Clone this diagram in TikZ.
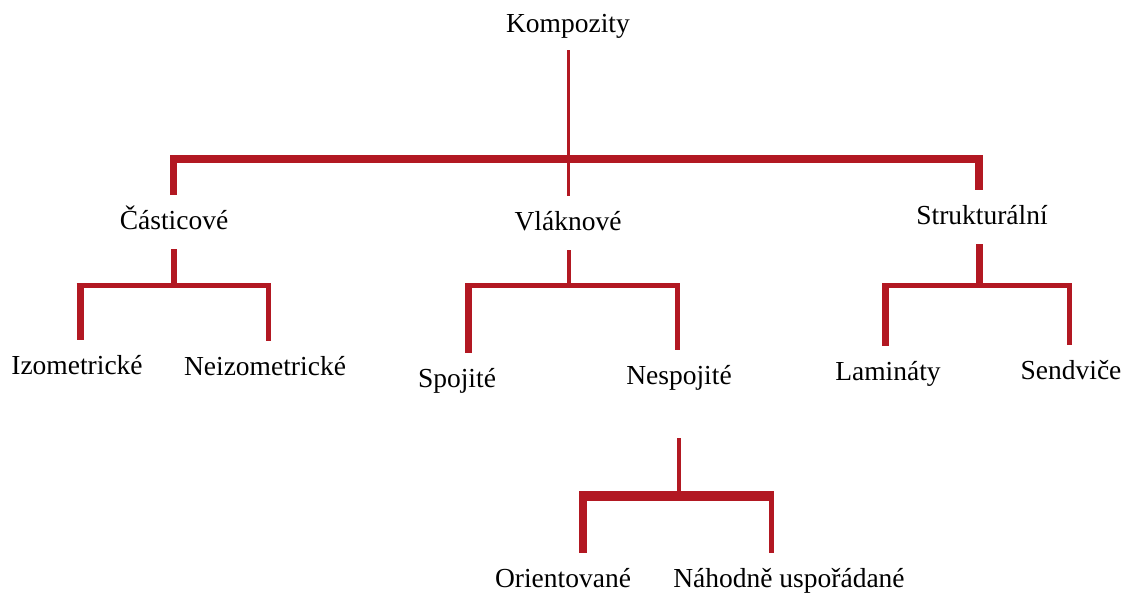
\documentclass[tikz,border=0pt]{standalone}
\usepackage{fontspec}
\setmainfont{Liberation Serif}
\usepackage{tikz}
\usetikzlibrary{positioning,calc}
\definecolor{barred}{RGB}{178,24,34}
\tikzset{
  lbl/.style={font=\fontsize{27.5}{30}\selectfont, inner xsep=0pt, inner ysep=14pt, text height=20pt, text depth=6pt},
  br/.style={draw=barred, line cap=butt, line width=#1}
}

\begin{document}
\begin{tikzpicture}[x=1pt,y=-1pt]
    \useasboundingbox (0,0) rectangle (1132,594);

    \node[lbl, inner ysep=11pt] (komp) at (568,26) {Kompozity};
    \node[lbl] (cast) at (174,222) {Částicové};
    \node[lbl] (vlak) at (568,223) {Vláknové};
    \node[lbl] (strk) at (982,217) {Strukturální};

    \node[lbl] (izo) at (77,367) {Izometrické};
    \node[lbl] (neizo) at (265,368) {Neizometrické};
    \node[lbl] (spoj) at (457,380) {Spojité};
    \node[lbl] (nesp) at (679,377) {Nespojité};
    \node[lbl] (lam) at (888,373) {Lamináty};
    \node[lbl] (send) at (1071,372) {Sendviče};
    \node[lbl] (ori) at (563,580) {Orientované};
    \node[lbl] (nah) at (789,580) {Náhodně uspořádané};

    % top level
    \coordinate (m1) at (173.5,159);
    \coordinate (m2) at (979,159);
    \draw[br=3] (komp) -- (vlak);
    \draw[br=8] ([xshift=-3.5pt]m1) -- ([xshift=4pt]m2);
    \draw[br=7] (m1) -- (m1 |- cast.north);
    \draw[br=8] (m2) -- (m2 |- strk.north);

    % castice
    \coordinate (c0) at (174,285.5);
    \coordinate (c1) at (80,285.5);
    \coordinate (c2) at (268,285.5);
    \draw[br=6] (c0 |- cast.south) -- (c0);
    \draw[br=5] ([xshift=-3.5pt]c1) -- ([xshift=2.5pt]c2);
    \draw[br=7] (c1) -- (c1 |- izo.north);
    \draw[br=5] (c2) -- (c2 |- neizo.north);

    % vlakna
    \coordinate (v0) at (568.5,285.5);
    \coordinate (v1) at (468.5,285.5);
    \coordinate (v2) at (677.5,285.5);
    \draw[br=4] (v0 |- vlak.south) -- (v0);
    \draw[br=5] ([xshift=-3.5pt]v1) -- ([xshift=2.5pt]v2);
    \draw[br=7] (v1) -- (v1 |- spoj.north);
    \draw[br=5] (v2) -- (v2 |- nesp.north);

    % nespojite
    \coordinate (n1) at (583,495.5);
    \coordinate (n2) at (771.5,495.5);
    \draw[br=4, shorten <=34pt] (nesp) -- (nesp |- n1);
    \draw[br=10] ([xshift=-4pt]n1) -- ([xshift=2.5pt]n2);
    \draw[br=8] (n1) -- (n1 |- ori.north);
    \draw[br=5] (n2) -- (n2 |- nah.north);

    % strukturalni
    \coordinate (s0) at (979.5,285.5);
    \coordinate (s1) at (885.5,285.5);
    \coordinate (s2) at (1069.5,285.5);
    \draw[br=7] (s0 |- strk.south) -- (s0);
    \draw[br=5] ([xshift=-3.5pt]s1) -- ([xshift=2.5pt]s2);
    \draw[br=7] (s1) -- (s1 |- lam.north);
    \draw[br=5] (s2) -- (s2 |- send.north);
\end{tikzpicture}
\end{document}
